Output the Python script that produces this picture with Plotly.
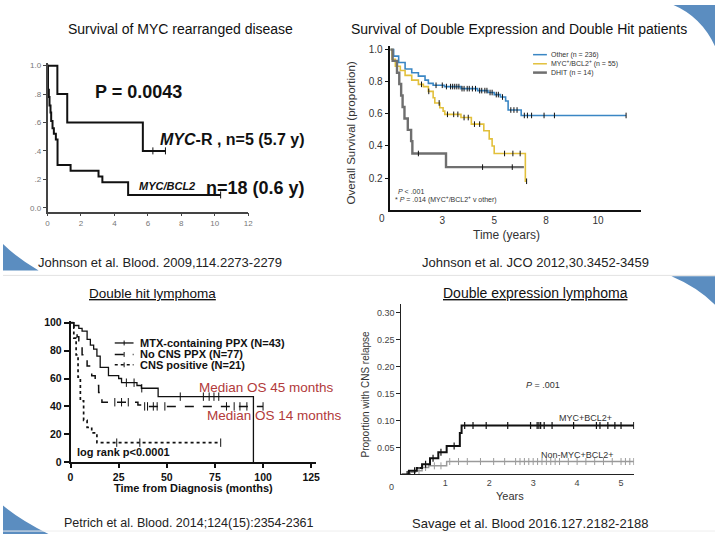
import plotly.graph_objects as go

# ---------------- DATA ----------------
# Panel 1: Survival of MYC rearranged disease (years, proportion)
mycr_t = [0, 0.59, 1.18, 5.7, 7.05]
mycr_s = [1.0, 0.8, 0.6, 0.4, 0.4]
mycr_cens = [6.3, 7.05]
mycbcl2_t = [0, 0.03, 0.08, 0.12, 0.18, 0.22, 0.3, 0.38, 0.5, 0.6, 1.38, 3.05, 3.28, 4.82, 10.35]
mycbcl2_s = [1.0, 0.83, 0.78, 0.72, 0.67, 0.61, 0.56, 0.52, 0.48, 0.30, 0.26, 0.22, 0.18, 0.09, 0.09]
mycbcl2_cens = [10.35]
p1_xticks = [0, 2, 4, 6, 8, 10, 12]
p1_yticks = [0, 0.2, 0.4, 0.6, 0.8, 1.0]
p1_yticktext = ["0.0", ".2", ".4", ".6", ".8", "1.0"]

# Panel 2: Double expression / double hit OS
other_t = [0, 0.16, 0.4, 0.71, 1.03, 1.35, 1.67, 1.83, 2.06, 2.6, 3.4, 4.2, 4.7, 5.0, 5.3, 5.55, 5.67, 6.3, 11.35]
other_s = [1.0, 0.96, 0.92, 0.88, 0.856, 0.835, 0.81, 0.79, 0.778, 0.77, 0.757, 0.745, 0.733, 0.72, 0.705, 0.68, 0.624, 0.59, 0.59]
other_cens = [2.2, 2.5, 2.7, 2.9, 3.0, 3.1, 3.2, 3.3, 3.45, 3.55, 3.7, 3.8, 3.95, 4.1, 4.3, 4.4,
              4.55, 4.65, 4.8, 4.9, 5.1, 5.2, 5.4, 5.8, 5.95, 6.1, 6.45, 6.6, 6.8, 7.4, 7.9, 11.35]
dexp_t = [0, 0.08, 0.24, 0.48, 0.71, 1.03, 1.35, 1.59, 1.83, 2.06, 2.14, 2.38, 2.54, 2.62, 3.4, 3.9, 4.5, 4.76, 4.9, 5.0, 6.5, 6.56]
dexp_s = [1.0, 0.94, 0.897, 0.87, 0.84, 0.81, 0.784, 0.77, 0.74, 0.70, 0.668, 0.638, 0.617, 0.597, 0.577, 0.536, 0.495, 0.444, 0.40, 0.353, 0.18, 0.18]
dexp_cens = [1.5, 1.85, 2.35, 2.75, 3.05, 3.25, 3.55, 3.75, 4.05, 4.3, 5.5, 5.9, 6.25, 6.56]
dhit_t = [0, 0.11, 0.32, 0.43, 0.52, 0.59, 0.68, 0.84, 1.0, 1.06, 2.68, 6.43]
dhit_s = [1.0, 0.93, 0.856, 0.786, 0.714, 0.643, 0.571, 0.50, 0.43, 0.353, 0.268, 0.268]
dhit_cens = [1.35, 4.44, 5.87]
p2_xticks = [2.5, 5, 7.5, 10]
p2_xticktext = ["3", "5", "8", "10"]
p2_yticks = [0.2, 0.4, 0.6, 0.8, 1.0]
p2_legend = ["Other (n = 236)", "MYC<sup>+</sup>/BCL2<sup>+</sup> (n = 55)", "DHIT (n = 14)"]

# Panel 3: Double hit lymphoma (months, %)
mtx_t = [0, 1.7, 4.3, 6, 8.6, 10.3, 12, 13.7, 15.4, 19.7, 25, 26.5, 34.5, 36.8, 45.5, 95]
mtx_s = [100, 98, 96, 94, 88, 84, 81, 76, 68, 62, 60, 57, 55, 53, 47, 0]
mtx_cens = [29, 33, 37, 57, 69, 72, 74.5, 77]
nocns_t = [0, 1.7, 3.4, 4.3, 6, 7.7, 8.6, 11, 12.8, 13.7, 14.6, 15.4, 16.3, 35, 37, 100]
nocns_s = [100, 96, 90, 87, 77, 74, 69, 62, 59, 55, 50, 46, 43, 41, 40, 40]
nocns_cens = [23, 26.5, 30, 38.5, 40, 43, 45, 49, 81, 85, 88, 91.6, 100]
cnspos_t = [0, 1.7, 2.9, 3.9, 5.1, 6.8, 8.6, 11, 13.7, 78]
cnspos_s = [100, 89, 77, 61, 44, 30, 25, 21, 14, 14]
cnspos_cens = [24, 36, 78]
p3_xticks = [0, 25, 50, 75, 100, 125]
p3_yticks = [0, 20, 40, 60, 80, 100]
p3_legend = ["MTX-containing PPX (N=43)", "No CNS PPX (N=77)", "CNS positive (N=21)"]

# Panel 4: Double expression lymphoma, CNS relapse (years, proportion)
dexcns_t = [0, 0.17, 0.35, 0.47, 0.65, 0.84, 1.03, 1.33, 1.37, 5.29]
dexcns_v = [0, 0.007, 0.012, 0.019, 0.030, 0.041, 0.053, 0.077, 0.091, 0.091]
dexcns_cens = [0.13, 0.3, 0.55, 0.72, 0.9, 1.2, 1.44, 1.63, 1.93, 2.42, 2.94, 3.09, 3.13, 3.17, 3.25,
               3.43, 3.92, 4.44, 4.52, 4.7, 4.86, 5.0, 5.29]
noncns_t = [0, 0.2, 0.32, 0.47, 0.62, 1.03, 5.29]
noncns_v = [0, 0.004, 0.007, 0.013, 0.016, 0.024, 0.024]
noncns_cens = [0.4, 0.55, 0.75, 0.9, 1.1, 1.3, 1.5, 1.8, 2.1, 2.35, 2.6, 2.7, 2.8, 2.9, 3.0, 3.1, 3.2,
               3.3, 3.4, 3.5, 3.6, 3.8, 4.0, 4.2, 4.4, 4.6, 4.8, 5.0, 5.1, 5.2, 5.29]
p4_xticks = [1, 2, 3, 4, 5]
p4_yticks = [0.05, 0.10, 0.15, 0.20, 0.25, 0.30]

# ---------------- HELPERS ----------------
W, H = 720, 540
FONT = "Arial, Liberation Sans, sans-serif"
NARROW = "Liberation Sans Narrow, Arial Narrow, Arial, sans-serif"


def fx(px):
    return px / W


def fy(py):
    return 1 - py / H


def step_at(ts, vs, t):
    v = vs[0]
    for ti, vi in zip(ts, vs):
        if ti <= t + 1e-9:
            v = vi
    return v


fig = go.Figure()


def add_step(t, s, xa, ya, color, width, dash="solid"):
    fig.add_trace(go.Scatter(x=t, y=s, mode="lines", xaxis=xa, yaxis=ya,
                             line=dict(color=color, width=width, shape="hv", dash=dash),
                             showlegend=False, hoverinfo="skip"))


def add_cens(times, t, s, xa, ya, color, size, width=1):
    ys = [step_at(t, s, c) for c in times]
    fig.add_trace(go.Scatter(x=times, y=ys, mode="markers", xaxis=xa, yaxis=ya,
                             marker=dict(symbol="line-ns-open", size=size, color=color,
                                         line=dict(color=color, width=width)),
                             showlegend=False, hoverinfo="skip"))


# Panel 1
add_step(mycr_t, mycr_s, "x", "y", "#111", 2)
add_step(mycbcl2_t, mycbcl2_s, "x", "y", "#111", 2)
add_cens(mycr_cens, mycr_t, mycr_s, "x", "y", "#111", 5)
add_cens(mycbcl2_cens, mycbcl2_t, mycbcl2_s, "x", "y", "#111", 5)

# Panel 2
BLUE, GOLD, GREY = "#3a86c4", "#e2c03c", "#6f6f6f"
add_step(other_t, other_s, "x2", "y2", BLUE, 1.6)
add_step(dexp_t, dexp_s, "x2", "y2", GOLD, 1.6)
add_step(dhit_t, dhit_s, "x2", "y2", GREY, 2.4)
add_cens(other_cens, other_t, other_s, "x2", "y2", "#111", 4)
add_cens(dexp_cens, dexp_t, dexp_s, "x2", "y2", "#111", 4)
add_cens(dhit_cens, dhit_t, dhit_s, "x2", "y2", "#111", 4)

# Panel 3
add_step(mtx_t, mtx_s, "x3", "y3", "#111", 1.3)
add_step(nocns_t, nocns_s, "x3", "y3", "#111", 1.5, "dash")
add_step(cnspos_t, cnspos_s, "x3", "y3", "#111", 1.7, "dot")
add_cens(mtx_cens, mtx_t, mtx_s, "x3", "y3", "#111", 6)
add_cens(nocns_cens, nocns_t, nocns_s, "x3", "y3", "#111", 6)
add_cens(cnspos_cens, cnspos_t, cnspos_s, "x3", "y3", "#111", 6)

# Panel 4
add_step(noncns_t, noncns_v, "x4", "y4", "#9a9a9a", 1.5)
add_step(dexcns_t, dexcns_v, "x4", "y4", "#111", 2)
add_cens(noncns_cens, noncns_t, noncns_v, "x4", "y4", "#9a9a9a", 5)
add_cens(dexcns_cens, dexcns_t, dexcns_v, "x4", "y4", "#111", 5, 1.2)


def axis(domain, rng, **kw):
    d = dict(domain=domain, range=rng, showgrid=False, zeroline=False, showline=True,
             fixedrange=True, layer="above traces")
    d.update(kw)
    return d


layout_axes = dict(
    xaxis=axis([fx(45), fx(248)], [0, 12], anchor="y", tickvals=p1_xticks,
               linecolor="#444", linewidth=1.5, ticks="outside", ticklen=3, tickcolor="#444",
               tickfont=dict(size=8, color="#777", family=FONT)),
    yaxis=axis([fy(211), fy(59)], [-0.028, 1.02], anchor="x", tickvals=p1_yticks,
               ticktext=p1_yticktext, linecolor="#444", linewidth=1.5, ticks="outside",
               ticklen=3, tickcolor="#444", tickfont=dict(size=8, color="#777", family=FONT)),
    xaxis2=axis([fx(391.7), fx(645)], [0, 12.06], anchor="y2", tickvals=p2_xticks,
                ticktext=p2_xticktext, linecolor="#111", linewidth=1.5, ticks="",
                tickfont=dict(size=10, color="#333", family=FONT)),
    yaxis2=axis([fy(209.4), fy(42)], [0, 1.022], anchor="x2", tickvals=p2_yticks,
                tickformat=".1f", linecolor="#111", linewidth=1.5, ticks="outside", ticklen=4,
                tickcolor="#111", tickfont=dict(size=10, color="#333", family=FONT)),
    xaxis3=axis([fx(68.3), fx(316.7)], [0, 127.6], anchor="y3", tickvals=p3_xticks,
                linecolor="#111", linewidth=1.5, ticks="outside", ticklen=4, tickwidth=1.5,
                tickcolor="#111", tickfont=dict(size=10.5, color="#111", family=FONT, weight="bold")),
    yaxis3=axis([fy(466.7), fy(322.9)], [0, 101], anchor="x3", tickvals=p3_yticks,
                linecolor="#111", linewidth=1.5, ticks="outside", ticklen=5, tickwidth=1.5,
                tickcolor="#111", tickfont=dict(size=10.5, color="#111", family=FONT, weight="bold")),
    xaxis4=axis([fx(402.9), fx(638.3)], [0, 5.3], anchor="y4", tickvals=p4_xticks,
                linecolor="#222", linewidth=1.2, ticks="",
                tickfont=dict(size=9, color="#444", family=FONT)),
    yaxis4=axis([fy(479.2), fy(305)], [0, 0.317], anchor="x4", tickvals=p4_yticks,
                tickformat=".2f", linecolor="#222", linewidth=1.2, ticks="outside", ticklen=4,
                tickcolor="#222", tickfont=dict(size=9, color="#444", family=FONT)),
)

annotations = []


def ann(text, x, y, size, color="#111", xanchor="center", family=FONT, angle=0, **kw):
    annotations.append(dict(text=text, x=fx(x), y=fy(y), xref="paper", yref="paper",
                            xanchor=xanchor, yanchor="middle", showarrow=False, textangle=angle,
                            font=dict(size=size, color=color, family=family, **kw)))


# Titles
ann("Survival of MYC rearranged disease", 179, 24, 14)
ann("Survival of Double Expression and Double Hit patients", 522, 24, 14)
ann("<u>Double hit lymphoma</u>", 151, 294, 13.5)
ann("<u>Double expression lymphoma</u>", 538, 294, 14)
# Citations
ann("Johnson et al. Blood. 2009,114.2273-2279", 159, 263, 13, "#222")
ann("Johnson et al. JCO 2012,30.3452-3459", 538, 263, 13, "#222")
ann("Petrich et al. Blood. 2014;124(15):2354-2361", 188, 529, 12.5, "#222")
ann("Savage et al. Blood 2016.127.2182-2188", 533, 529, 13, "#222")

# Panel 1 text
ann("P = 0.0043", 137, 89, 18, weight="bold")
ann("<i>MYC</i>-R , n=5 (5.7 y)", 157, 137, 16, xanchor="left", weight="bold")
ann("<i>MYC/BCL2</i>", 135, 185, 11, xanchor="left", weight="bold")
ann("n=18 (0.6 y)", 203, 187, 18, xanchor="left", weight="bold")

# Panel 2 text
ann("0", 383, 218, 10, "#333")
ann("Overall Survival (proportion)", 352, 131, 11.5, "#333", family=NARROW, angle=-90)
ann("Time (years)", 509, 235, 12, "#333", family=NARROW)
ann("<i>P</i> < .001", 397, 190, 7, "#333", xanchor="left")
ann("* <i>P</i> = .014 (MYC<sup>+</sup>/BCL2<sup>+</sup> v other)", 394, 199, 7, "#333", xanchor="left")
legend2_rows = [50.7, 60, 69]
for label, row in zip(p2_legend, legend2_rows):
    ann(label, 552, row, 7, "#333", xanchor="left")

# Panel 3 text
legend3_rows = [345, 356.7, 367.3]
for label, row in zip(p3_legend, legend3_rows):
    ann(label, 137, row, 11, xanchor="left", weight="bold")
ann("Median OS 45 months", 266, 390, 13.5, "#b23a3a")
ann("Median OS 14 months", 275, 419.3, 13.5, "#b23a3a")
ann("log rank p<0.0001", 72.5, 456.7, 11, xanchor="left", weight="bold")
ann("Time from Diagnosis (months)", 193, 493, 11, weight="bold")

# Panel 4 text
ann("0", 393, 492, 9, "#444")
ann("Proportion with CNS relapse", 367, 396.7, 10, "#333", family=NARROW, angle=-90)
ann("Years", 513, 501.7, 11, "#333", family=NARROW)
ann("<i>P</i> = .001", 546, 388.3, 9, "#333")
ann("MYC+BCL2+", 589, 421.7, 9, "#333")
ann("Non-MYC+BCL2+", 581, 459, 9, "#333")

shapes = []


def pline(x0, y0, x1, y1, color, width, dash="solid"):
    shapes.append(dict(type="line", xref="paper", yref="paper", x0=fx(x0), y0=fy(y0),
                       x1=fx(x1), y1=fy(y1), line=dict(color=color, width=width, dash=dash)))


# Panel 2 legend samples
for col, row, w in zip([BLUE, GOLD, GREY], legend2_rows, [1.5, 1.5, 2.5]):
    pline(536, row, 550, row, col, w)
# Panel 3 legend samples
for dash, row in zip(["solid", "dash", "dot"], legend3_rows):
    pline(113, row, 132, row, "#111", 1.3 if dash == "solid" else 1.6, dash)
    pline(122.5, row - 2.5, 122.5, row + 2.5, "#111", 1)

# Separator lines
pline(0, 276, 720, 276, "#e2e2e2", 1)
pline(0, 537, 720, 537, "#eeeeee", 1)


def ppath(points_cmd):
    out = []
    for tok in points_cmd:
        if isinstance(tok, str):
            out.append(tok)
        else:
            out.append(f"{fx(tok[0]):.5f},{fy(tok[1]):.5f}")
    return " ".join(out)


SW = "#5b8dc0"
swooshes = [
    ["M", (678, 0), "Q", (706, 12), (720, 42), "L", (720, 0), "Z"],
    ["M", (676, 277), "L", (720, 277), "L", (720, 306), "Q", (702, 288), (676, 277), "Z"],
    ["M", (0, 244), "Q", (14, 258), (36, 271), "L", (0, 271), "Z"],
    ["M", (0, 511), "Q", (18, 526), (46, 540), "L", (0, 540), "Z"],
]
for sw in swooshes:
    shapes.append(dict(type="path", xref="paper", yref="paper", path=ppath(sw),
                       fillcolor=SW, line=dict(width=0), layer="below"))

fig.update_layout(
    width=W, height=H, margin=dict(l=0, r=0, t=0, b=0),
    paper_bgcolor="white", plot_bgcolor="rgba(0,0,0,0)",
    showlegend=False, annotations=annotations, shapes=shapes,
    font=dict(family=FONT),
    **layout_axes,
)

fig.write_html("out.html", config={"displayModeBar": False},
               post_script="document.body.style.margin='0';document.body.style.overflow='hidden';")
